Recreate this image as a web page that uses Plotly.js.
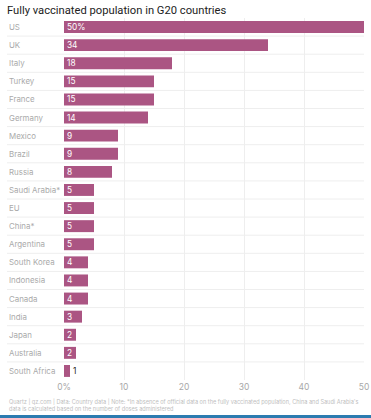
<!DOCTYPE html>
<html>
<head>
<meta charset="utf-8">
<script src="https://cdn.plot.ly/plotly-3.0.1.min.js"></script>
<style>
html,body{margin:0;padding:0;background:#fff;}
#chart{width:371px;height:418px;position:relative;}
#bar{position:absolute;left:0;top:415px;width:371px;height:3px;background:#2c7bb0;}
</style>
</head>
<body>
<div id="chart"></div>
<div id="bar"></div>
<script>
const countries = ["US","UK","Italy","Turkey","France","Germany","Mexico","Brazil","Russia","Saudi Arabia*","EU","China*","Argentina","South Korea","Indonesia","Canada","India","Japan","Australia","South Africa"];
const vaccinated = [50,34,18,15,15,14,9,9,8,5,5,5,5,4,4,4,3,2,2,1];
const valueLabels = ["50%","34","18","15","15","14","9","9","8","5","5","5","5","4","4","4","3","2","2","1"];
const xTickVals = [0,10,20,30,40,50];
const xTickText = ["0%","10","20","30","40","50"];
const titleText = "Fully vaccinated population in G20 countries";
const noteText = "Quartz | qz.com | Data: Country data | Note: *In absence of official data on the fully vaccinated population, China and Saudi Arabia's<br>data is calculated based on the number of doses administered";

const FONT = "Inter, 'Open Sans', sans-serif";
const W = 371, L = 64, R = 7, T = 18, B = 38;
const plotW = W - L - R;

const trace = {
  type: "bar",
  orientation: "h",
  y: countries,
  x: vaccinated,
  text: valueLabels,
  textposition: vaccinated.map(v => v < 2 ? "outside" : "inside"),
  insidetextanchor: "start",
  textangle: 0,
  constraintext: "none",
  cliponaxis: false,
  textfont: {family: FONT, size: 8.3, color: vaccinated.map(v => v < 2 ? "#222" : "#fff")},
  marker: {color: "#ab5583"},
  hoverinfo: "none"
};

const shapes = [];
for (let i = 0; i < countries.length - 1; i++) {
  shapes.push({type: "line", xref: "paper", yref: "y", x0: -57/plotW, x1: 1, y0: i + 0.5, y1: i + 0.5,
    line: {color: "#eeeeee", width: 1}, layer: "below"});
}

const annotations = countries.map((c, i) => ({
  xref: "paper", yref: "y", x: -57/plotW, y: i, text: c, showarrow: false,
  xanchor: "left", yanchor: "middle", font: {family: FONT, size: 7.9, color: "#aaaaaa"}
}));
annotations.push({
  xref: "paper", yref: "paper", x: -57/plotW, y: -0.045, text: noteText, showarrow: false,
  xanchor: "left", yanchor: "top", align: "left", font: {family: FONT, size: 5.6, color: "#c0c0c0"}
});

const layout = {
  width: W, height: 418,
  margin: {l: L, r: R, t: T, b: B},
  paper_bgcolor: "#fff", plot_bgcolor: "#fff",
  title: {text: titleText, x: 7/W, xanchor: "left", y: 1 - 10/418, yanchor: "middle",
    font: {family: "Roboto, sans-serif", size: 11.2, color: "#222"}},
  bargap: 0.34,
  showlegend: false,
  xaxis: {range: [0, 50], tickvals: xTickVals, ticktext: xTickText, showgrid: true,
    gridcolor: "#eeeeee", gridwidth: 1, zeroline: false, showline: false, ticks: "",
    tickfont: {family: FONT, size: 8.5, color: "#a8a8a8"}, fixedrange: true},
  yaxis: {autorange: "reversed", showticklabels: false, showgrid: false, zeroline: false,
    showline: false, ticks: "", fixedrange: true},
  shapes: shapes,
  annotations: annotations
};

Plotly.newPlot("chart", [trace], layout, {displayModeBar: false, staticPlot: true});
</script>
</body>
</html>
